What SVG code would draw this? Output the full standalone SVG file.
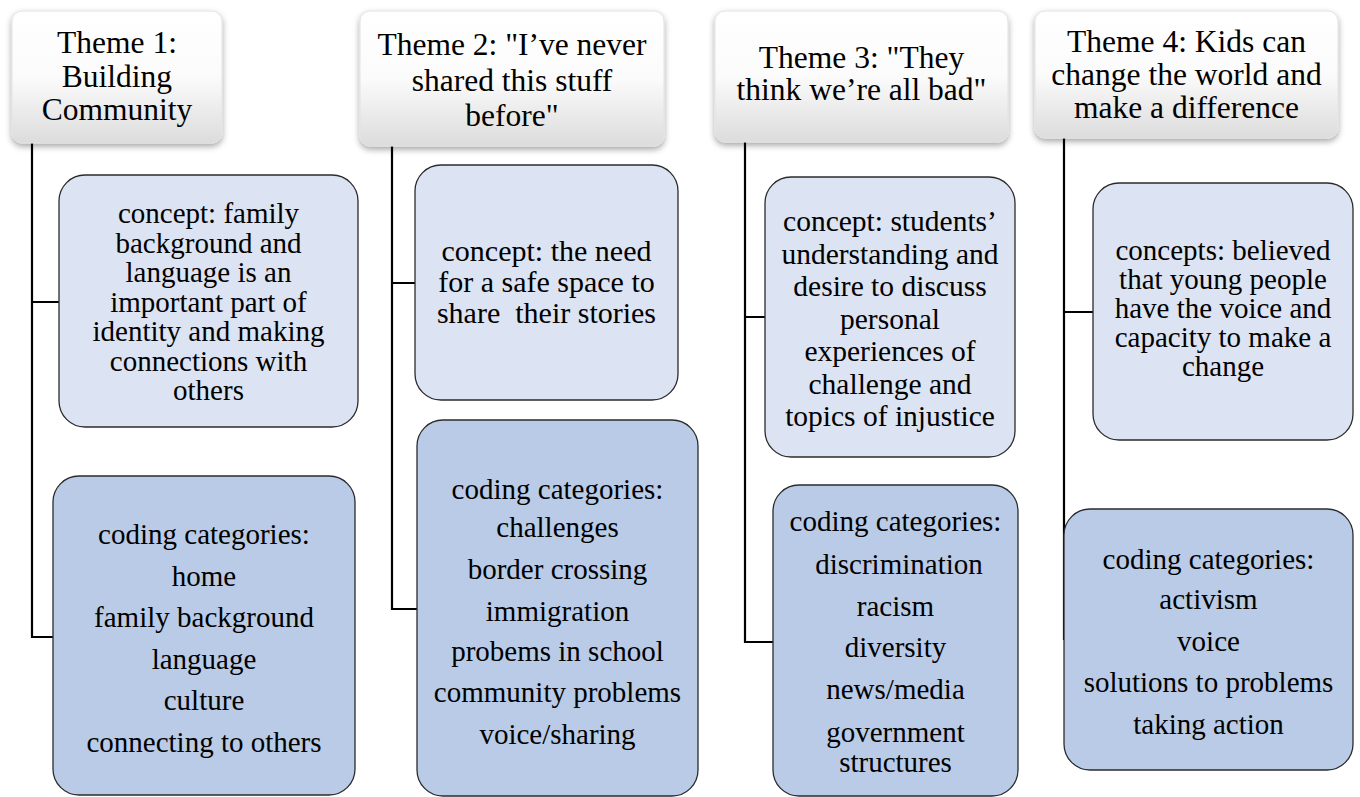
<svg xmlns="http://www.w3.org/2000/svg" width="1360" height="797" viewBox="0 0 1360 797">
  <defs>
    <linearGradient id="headFill" x1="0" y1="0" x2="0" y2="1">
      <stop offset="0" stop-color="#ffffff"/>
      <stop offset="0.5" stop-color="#fbfbfb"/>
      <stop offset="1" stop-color="#dcdcdc"/>
    </linearGradient>
    <filter id="headShadow" x="-10%" y="-10%" width="120%" height="130%">
      <feDropShadow dx="0" dy="3" stdDeviation="3" flood-color="#000" flood-opacity="0.35"/>
    </filter>
  </defs>
  <style>
    text { font-family: "Liberation Serif", "Times New Roman", serif; fill: #000; text-anchor: middle; }
    .head rect { fill: url(#headFill); stroke: #e2e2e2; stroke-width: 1; filter: url(#headShadow); }
    .head text { font-size: 31.5px; }
    .concept rect { fill: #dce3f2; stroke: #2b2b2b; stroke-width: 1.3; }
    .coding rect { fill: #b9cbe6; stroke: #2b2b2b; stroke-width: 1.3; }
    .concept text, .coding text { font-size: 29px; }
    #connectors path { fill: none; stroke: #000; stroke-width: 2.2; }
  </style>
  <rect x="0" y="0" width="1360" height="797" fill="#fff"/>

  <!-- tree connectors -->
  <g id="connectors">
    <path d="M32,143 V637 H53 M32,302 H59"/>
    <path d="M392,146 V609 H417 M392,283 H415"/>
    <path d="M745,142 V642 H773 M745,317 H765"/>
    <path d="M1064,138 V640 M1064,312 H1093"/>
  </g>

  <!-- Theme 1 -->
  <g id="theme1" class="head">
    <rect x="12" y="11" width="210" height="132" rx="10"/>
    <text x="117" y="53">Theme 1:</text>
    <text x="117" y="87">Building</text>
    <text x="117" y="120">Community</text>
  </g>
  <g id="theme1-concept" class="concept">
    <rect x="59" y="175" width="299" height="252" rx="26"/>
    <text x="208.5" y="223">concept: family</text>
    <text x="208.5" y="252.5">background and</text>
    <text x="208.5" y="282">language is an</text>
    <text x="208.5" y="311.5">important part of</text>
    <text x="208.5" y="341">identity and making</text>
    <text x="208.5" y="370.5">connections with</text>
    <text x="208.5" y="400">others</text>
  </g>
  <g id="theme1-coding" class="coding">
    <rect x="53" y="476" width="302" height="319" rx="26"/>
    <text x="204" y="544">coding categories:</text>
    <text x="204" y="585.6">home</text>
    <text x="204" y="627.2">family background</text>
    <text x="204" y="668.8">language</text>
    <text x="204" y="710.4">culture</text>
    <text x="204" y="752">connecting to others</text>
  </g>

  <!-- Theme 2 -->
  <g id="theme2" class="head">
    <rect x="360" y="11" width="304" height="135" rx="10"/>
    <text x="512" y="55">Theme 2: "I’ve never</text>
    <text x="512" y="91">shared this stuff</text>
    <text x="512" y="126">before"</text>
  </g>
  <g id="theme2-concept" class="concept">
    <rect x="415" y="165" width="263" height="235" rx="26"/>
    <text x="546.5" y="261" style="font-size:30px">concept: the need</text>
    <text x="546.5" y="292" style="font-size:30px">for a safe space to</text>
    <text x="546.5" y="323" style="font-size:30px">share&#160; their stories</text>
  </g>
  <g id="theme2-coding" class="coding">
    <rect x="417" y="420" width="281" height="376" rx="26"/>
    <text x="557.5" y="499">coding categories:</text>
    <text x="557.5" y="537">challenges</text>
    <text x="557.5" y="579">border crossing</text>
    <text x="557.5" y="621">immigration</text>
    <text x="557.5" y="661">probems in school</text>
    <text x="557.5" y="702">community problems</text>
    <text x="557.5" y="744">voice/sharing</text>
  </g>

  <!-- Theme 3 -->
  <g id="theme3" class="head">
    <rect x="715" y="11" width="293" height="131" rx="10"/>
    <text x="861.5" y="68">Theme 3: "They</text>
    <text x="861.5" y="100">think we’re all bad"</text>
  </g>
  <g id="theme3-concept" class="concept">
    <rect x="765" y="177" width="250" height="280" rx="26"/>
    <text x="890" y="231" style="font-size:29.5px">concept: students’</text>
    <text x="890" y="263.5" style="font-size:29.5px">understanding and</text>
    <text x="890" y="296" style="font-size:29.5px">desire to discuss</text>
    <text x="890" y="328.5" style="font-size:29.5px">personal</text>
    <text x="890" y="361" style="font-size:29.5px">experiences of</text>
    <text x="890" y="393.5" style="font-size:29.5px">challenge and</text>
    <text x="890" y="426" style="font-size:29.5px">topics of injustice</text>
  </g>
  <g id="theme3-coding" class="coding">
    <rect x="773" y="485" width="245" height="311" rx="26"/>
    <text x="895.5" y="531">coding categories:</text>
    <text x="899" y="574">discrimination</text>
    <text x="895.5" y="616">racism</text>
    <text x="895.5" y="657">diversity</text>
    <text x="895.5" y="699">news/media</text>
    <text x="895.5" y="742">government</text>
    <text x="895.5" y="772">structures</text>
  </g>

  <!-- Theme 4 -->
  <g id="theme4" class="head">
    <rect x="1035" y="11" width="303" height="127" rx="10"/>
    <text x="1186.5" y="52">Theme 4: Kids can</text>
    <text x="1186.5" y="85">change the world and</text>
    <text x="1186.5" y="118">make a difference</text>
  </g>
  <g id="theme4-concept" class="concept">
    <rect x="1093" y="183" width="260" height="257" rx="26"/>
    <text x="1223" y="260">concepts: believed</text>
    <text x="1223" y="289">that young people</text>
    <text x="1223" y="318">have the voice and</text>
    <text x="1223" y="347">capacity to make a</text>
    <text x="1223" y="376">change</text>
  </g>
  <g id="theme4-coding" class="coding">
    <rect x="1064" y="509" width="289" height="261" rx="26"/>
    <text x="1208.5" y="569">coding categories:</text>
    <text x="1208.5" y="609">activism</text>
    <text x="1208.5" y="651">voice</text>
    <text x="1208.5" y="692">solutions to problems</text>
    <text x="1208.5" y="734">taking action</text>
  </g>
</svg>
